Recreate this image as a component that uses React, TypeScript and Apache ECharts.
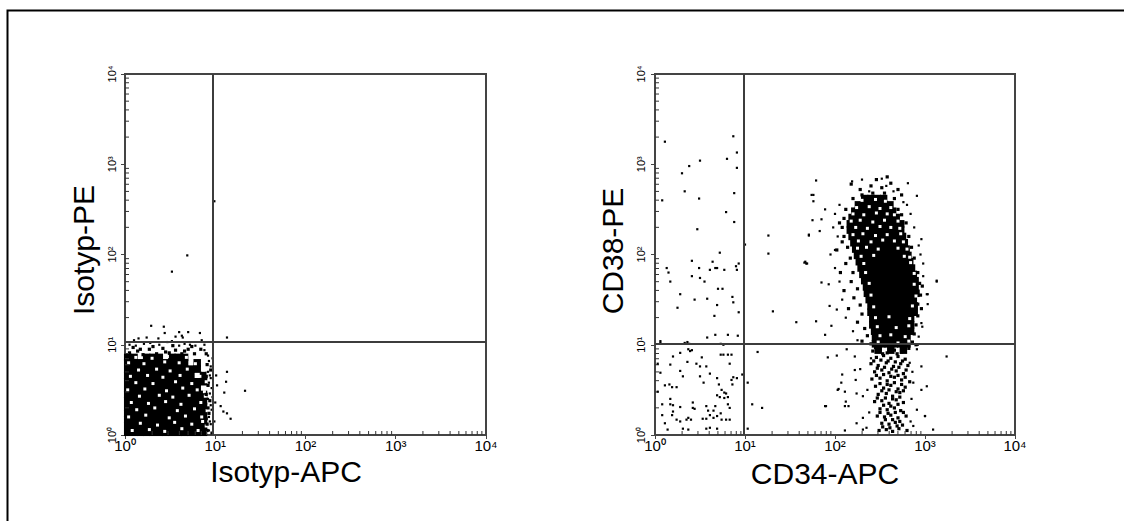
import React, { useEffect, useRef } from "react";
import * as echarts from "echarts";

// ---------- axes ----------
const tickLabels = ["10⁰", "10¹", "10²", "10³", "10⁴"];
const minorTickValues = [
  2, 3, 4, 5, 6, 7, 8, 9, 20, 30, 40, 50, 60, 70, 80, 90, 200, 300, 400, 500, 600, 700, 800, 900,
  2000, 3000, 4000, 5000, 6000, 7000, 8000, 9000,
];
const axisNames = { x1: "Isotyp-APC", y1: "Isotyp-PE", x2: "CD34-APC", y2: "CD38-PE" };

// ---------- panel 1 (Isotyp), values in decades (log10) ----------
const isoGate = { x: 9.4, y: 10.8 };
const isoCoreRows: [number, number[]][] = [
  [0.03, [0.03, 0.1, 0.17, 0.24, 0.31, 0.38, 0.45, 0.52, 0.59, 0.66, 0.73, 0.8, 0.87]],
  [0.1, [0.03, 0.1, 0.17, 0.24, 0.31, 0.38, 0.45, 0.52, 0.59, 0.66, 0.73, 0.8, 0.87]],
  [0.17, [0.03, 0.1, 0.17, 0.24, 0.31, 0.38, 0.45, 0.52, 0.59, 0.66, 0.73, 0.8, 0.87]],
  [0.24, [0.03, 0.1, 0.17, 0.24, 0.31, 0.38, 0.45, 0.52, 0.59, 0.66, 0.73, 0.8, 0.87]],
  [0.31, [0.03, 0.1, 0.17, 0.24, 0.31, 0.38, 0.45, 0.52, 0.59, 0.66, 0.73, 0.8, 0.87]],
  [0.38, [0.03, 0.1, 0.17, 0.24, 0.31, 0.38, 0.45, 0.52, 0.59, 0.66, 0.73, 0.8, 0.87]],
  [0.45, [0.03, 0.1, 0.17, 0.24, 0.31, 0.38, 0.45, 0.52, 0.59, 0.66, 0.73, 0.8, 0.87]],
  [0.52, [0.03, 0.1, 0.17, 0.24, 0.31, 0.38, 0.45, 0.52, 0.59, 0.66, 0.73, 0.8]],
  [0.59, [0.03, 0.1, 0.17, 0.24, 0.31, 0.38, 0.45, 0.52, 0.59, 0.66, 0.73, 0.8, 0.87]],
  [0.66, [0.03, 0.1, 0.17, 0.24, 0.31, 0.38, 0.45, 0.52, 0.59, 0.66, 0.73, 0.87]],
  [0.73, [0.03, 0.1, 0.17, 0.24, 0.31, 0.38, 0.45, 0.52, 0.59, 0.66, 0.73, 0.8]],
  [0.8, [0.03, 0.1, 0.17, 0.24, 0.31, 0.38, 0.45, 0.52, 0.59, 0.66, 0.8]],
  [0.86, [0.03, 0.1, 0.24, 0.31, 0.38, 0.52, 0.59, 0.66]],
];
const isoSpecks: [number, number][] = [
  [0.08, 0.05], [0.27, 0.06], [0.44, 0.04], [0.63, 0.07], [0.81, 0.05],
  [0.17, 0.13], [0.36, 0.11], [0.55, 0.14], [0.74, 0.12], [0.9, 0.1],
  [0.04, 0.2], [0.23, 0.22], [0.49, 0.19], [0.67, 0.21], [0.85, 0.2],
  [0.13, 0.28], [0.33, 0.3], [0.58, 0.27], [0.77, 0.29], [0.91, 0.27],
  [0.07, 0.36], [0.26, 0.35], [0.45, 0.37], [0.62, 0.34], [0.84, 0.36],
  [0.16, 0.43], [0.38, 0.44], [0.53, 0.42], [0.71, 0.44], [0.89, 0.43],
  [0.03, 0.5], [0.22, 0.51], [0.46, 0.49], [0.64, 0.52], [0.8, 0.5],
  [0.12, 0.58], [0.31, 0.57], [0.56, 0.59], [0.74, 0.57], [0.9, 0.59],
  [0.06, 0.65], [0.25, 0.66], [0.42, 0.64], [0.61, 0.66], [0.83, 0.65],
  [0.15, 0.72], [0.35, 0.73], [0.5, 0.71], [0.69, 0.73], [0.87, 0.72],
  [0.04, 0.8], [0.21, 0.79], [0.44, 0.81], [0.6, 0.8], [0.78, 0.79], [0.9, 0.81],
  [0.12, 0.86], [0.3, 0.85], [0.47, 0.87], [0.68, 0.86], [0.84, 0.86],
  [0.86, 0.15], [0.88, 0.48], [0.92, 0.68],
];
const isoMid: [number, number][] = [
  [0.05, 0.91], [0.14, 0.93], [0.2, 0.89], [0.27, 0.95], [0.35, 0.9], [0.42, 0.96], [0.49, 0.91],
  [0.56, 0.94], [0.63, 0.9], [0.7, 0.95], [0.77, 0.9], [0.84, 0.95], [0.9, 0.9], [0.09, 0.97],
  [0.31, 0.98], [0.53, 0.99], [0.74, 0.98], [0.17, 0.95], [0.45, 0.92], [0.66, 0.93],
  [0.91, 0.05], [0.9, 0.18], [0.92, 0.3], [0.9, 0.45], [0.92, 0.55], [0.9, 0.65], [0.91, 0.78],
  [0.94, 0.38], [0.95, 0.72], [0.93, 0.24], [0.91, 0.12],
];
const isoDots: [number, number][] = [
  [0.93, 0.05], [0.95, 0.12], [0.93, 0.2], [0.96, 0.28], [0.95, 0.33], [0.92, 0.4], [0.94, 0.46],
  [0.96, 0.52], [0.93, 0.58], [0.95, 0.63], [0.92, 0.7], [0.95, 0.76], [0.93, 0.82], [0.92, 0.88],
  [0.88, 0.94], [0.96, 0.02], [0.94, 0.15], [0.97, 0.42], [0.94, 0.66], [0.97, 0.85],
  [0.05, 1.0], [0.12, 0.99], [0.21, 1.01], [0.28, 1.02], [0.38, 1.0], [0.47, 1.03], [0.52, 1.04],
  [0.6, 0.99], [0.66, 1.01], [0.72, 1.0], [0.78, 0.99], [0.85, 1.05], [0.1, 1.05], [0.24, 1.08],
  [0.37, 1.07], [0.44, 1.13], [0.56, 1.09], [0.64, 1.08], [0.7, 1.14], [0.83, 1.13], [0.15, 1.07],
  [0.29, 1.21], [0.43, 1.2], [0.6, 1.14], [0.63, 1.1], [0.88, 1.0],
  [1.13, 1.08], [1.13, 0.7], [1.12, 0.59], [1.33, 0.49], [1.1, 0.47], [1.09, 0.26], [1.13, 0.24],
  [1.17, 0.18], [1.06, 0.32], [1.0, 0.36], [1.02, 0.55], [0.99, 0.15], [1.01, 0.66],
  [0.52, 1.81], [0.69, 1.99], [0.99, 2.59],
];

// ---------- panel 2 (CD34 / CD38), values in decades (log10) ----------
const cdGate = { x: 9.7, y: 10.3 };
const cdCoreRows: [number, number[]][] = [
  [2.62, [2.33, 2.4, 2.47, 2.54]],
  [2.55, [2.26, 2.33, 2.4, 2.47, 2.54, 2.61]],
  [2.48, [2.22, 2.29, 2.36, 2.43, 2.5, 2.57, 2.64]],
  [2.41, [2.19, 2.26, 2.33, 2.4, 2.47, 2.54, 2.61, 2.68]],
  [2.34, [2.17, 2.24, 2.31, 2.38, 2.45, 2.52, 2.59, 2.66, 2.73]],
  [2.27, [2.17, 2.24, 2.31, 2.38, 2.45, 2.52, 2.59, 2.66, 2.73]],
  [2.2, [2.19, 2.26, 2.33, 2.4, 2.47, 2.54, 2.61, 2.68, 2.75]],
  [2.13, [2.21, 2.28, 2.35, 2.42, 2.49, 2.56, 2.63, 2.7, 2.77]],
  [2.06, [2.23, 2.3, 2.37, 2.44, 2.51, 2.58, 2.65, 2.72, 2.79]],
  [1.99, [2.25, 2.32, 2.39, 2.46, 2.53, 2.6, 2.67, 2.74, 2.81]],
  [1.92, [2.27, 2.34, 2.41, 2.48, 2.55, 2.62, 2.69, 2.76, 2.83]],
  [1.85, [2.29, 2.36, 2.43, 2.5, 2.57, 2.64, 2.71, 2.78, 2.85]],
  [1.78, [2.31, 2.38, 2.45, 2.52, 2.59, 2.66, 2.73, 2.8, 2.87]],
  [1.71, [2.33, 2.4, 2.47, 2.54, 2.61, 2.68, 2.75, 2.82, 2.89]],
  [1.64, [2.35, 2.42, 2.49, 2.56, 2.63, 2.7, 2.77, 2.84, 2.89]],
  [1.57, [2.36, 2.43, 2.5, 2.57, 2.64, 2.71, 2.78, 2.85, 2.9]],
  [1.5, [2.38, 2.45, 2.52, 2.59, 2.66, 2.73, 2.8, 2.87]],
  [1.43, [2.4, 2.47, 2.54, 2.61, 2.68, 2.75, 2.82, 2.88]],
  [1.36, [2.4, 2.47, 2.54, 2.61, 2.68, 2.75, 2.82, 2.88]],
  [1.29, [2.42, 2.49, 2.56, 2.63, 2.7, 2.77, 2.84]],
  [1.22, [2.42, 2.49, 2.56, 2.63, 2.7, 2.77, 2.84]],
  [1.15, [2.44, 2.51, 2.58, 2.65, 2.72, 2.79, 2.84]],
  [1.08, [2.45, 2.52, 2.59, 2.66, 2.73, 2.8]],
  [1.01, [2.45, 2.52, 2.59, 2.66, 2.73, 2.8]],
  [0.94, [2.48, 2.62, 2.76]],
];
const cdSpecks: [number, number][] = [
  [2.3, 2.6], [2.45, 2.61], [2.56, 2.59],
  [2.24, 2.52], [2.38, 2.53], [2.5, 2.51], [2.62, 2.52],
  [2.2, 2.45], [2.32, 2.44], [2.46, 2.46], [2.58, 2.45], [2.66, 2.44],
  [2.18, 2.37], [2.28, 2.38], [2.42, 2.36], [2.55, 2.38], [2.7, 2.37],
  [2.23, 2.3], [2.36, 2.29], [2.5, 2.31], [2.62, 2.3], [2.72, 2.29],
  [2.2, 2.22], [2.31, 2.23], [2.45, 2.21], [2.58, 2.22], [2.73, 2.23],
  [2.26, 2.15], [2.4, 2.14], [2.53, 2.16], [2.66, 2.15], [2.76, 2.14],
  [2.25, 2.07], [2.35, 2.08], [2.48, 2.06], [2.7, 2.07], [2.8, 2.06],
  [2.29, 1.98], [2.43, 1.99], [2.77, 1.98], [2.83, 1.97],
  [2.32, 1.9], [2.84, 1.91], [2.34, 1.8], [2.88, 1.79], [2.38, 1.68], [2.88, 1.67],
  [2.4, 1.55], [2.9, 1.54], [2.43, 1.42], [2.86, 1.43], [2.45, 1.3], [2.6, 1.31], [2.83, 1.29],
  [2.47, 1.2], [2.68, 1.19], [2.82, 1.21], [2.5, 1.1], [2.62, 1.11], [2.78, 1.09],
  [2.48, 1.03], [2.7, 1.02], [2.82, 1.04],
];
const cdMid: [number, number][] = [
  [2.42, 0.93], [2.5, 0.95], [2.58, 0.91], [2.66, 0.94], [2.74, 0.92], [2.82, 0.96],
  [2.46, 0.86], [2.54, 0.88], [2.62, 0.85], [2.7, 0.87], [2.78, 0.84],
  [2.4, 0.79], [2.48, 0.77], [2.57, 0.8], [2.65, 0.76], [2.73, 0.79], [2.81, 0.77],
  [2.44, 0.7], [2.52, 0.72], [2.6, 0.69], [2.68, 0.71], [2.76, 0.68],
  [2.41, 0.62], [2.5, 0.63], [2.58, 0.6], [2.66, 0.64], [2.74, 0.61], [2.83, 0.59],
  [2.45, 0.54], [2.54, 0.52], [2.62, 0.55], [2.7, 0.51], [2.78, 0.53],
  [2.48, 0.45], [2.57, 0.46], [2.64, 0.43], [2.72, 0.47],
  [2.44, 0.37], [2.52, 0.38], [2.6, 0.35], [2.68, 0.39], [2.76, 0.36],
  [2.5, 0.29], [2.58, 0.28], [2.66, 0.3], [2.73, 0.27],
  [2.47, 0.21], [2.55, 0.2], [2.62, 0.22], [2.7, 0.19], [2.79, 0.21],
  [2.52, 0.13], [2.6, 0.12], [2.67, 0.14], [2.75, 0.11],
  [2.49, 0.05], [2.57, 0.06], [2.64, 0.04], [2.71, 0.07], [2.8, 0.05],
  [2.45, 0.97], [2.53, 0.9], [2.61, 0.96], [2.69, 0.9], [2.77, 0.96], [2.43, 0.82], [2.51, 0.83],
  [2.59, 0.82], [2.67, 0.81], [2.75, 0.82], [2.47, 0.74], [2.55, 0.75], [2.63, 0.73], [2.71, 0.75],
  [2.79, 0.72], [2.46, 0.66], [2.54, 0.67], [2.62, 0.65], [2.7, 0.66], [2.78, 0.64], [2.5, 0.57],
  [2.58, 0.56], [2.66, 0.58], [2.74, 0.56], [2.52, 0.49], [2.6, 0.5], [2.68, 0.48], [2.76, 0.49],
  [2.47, 0.41], [2.56, 0.41], [2.64, 0.4], [2.72, 0.42], [2.54, 0.33], [2.62, 0.32], [2.7, 0.34],
  [2.5, 0.25], [2.59, 0.24], [2.67, 0.25], [2.76, 0.25], [2.56, 0.17], [2.64, 0.17], [2.72, 0.15],
  [2.53, 0.09], [2.61, 0.08], [2.69, 0.1],
  [2.2, 2.62], [2.3, 2.66], [2.42, 2.68], [2.55, 2.68], [2.66, 2.62], [2.74, 2.66], [2.28, 2.72],
  [2.4, 2.76], [2.52, 2.74], [2.62, 2.79], [2.7, 2.72], [2.46, 2.83], [2.18, 2.78], [2.58, 2.86],
  [2.7, 2.5], [2.74, 2.44], [2.79, 2.35], [2.12, 2.5], [2.1, 2.4],
  [2.08, 2.3], [2.1, 2.2], [2.14, 2.08], [2.08, 2.14], [2.17, 1.96], [2.12, 1.9], [2.2, 1.8],
  [2.18, 1.7], [2.25, 1.62], [2.21, 1.52], [2.28, 1.44], [2.3, 1.34], [2.25, 1.25], [2.33, 1.18],
  [2.36, 1.1], [2.3, 1.04], [2.4, 1.01], [2.82, 2.2], [2.85, 2.08], [2.88, 1.96], [2.92, 1.8],
  [2.94, 1.68], [2.95, 1.55], [2.92, 1.45], [2.92, 1.32], [2.9, 1.22], [2.88, 1.12], [2.86, 1.03],
  [2.9, 1.0], [2.05, 2.35], [2.02, 2.05], [2.06, 1.8], [2.1, 1.6], [2.15, 1.4], [2.97, 1.65],
  [2.96, 1.4],
];
const cdDots: [number, number][] = [
  // left column, above gate
  [0.11, 3.25], [0.08, 2.6], [0.3, 2.9], [0.38, 2.98], [0.5, 3.04], [0.33, 2.7], [0.49, 2.62],
  [0.47, 2.28], [0.41, 1.93], [0.13, 1.85], [0.15, 1.8], [0.17, 1.7], [0.28, 1.56], [0.25, 1.41],
  [0.41, 1.76], [0.49, 1.85], [0.5, 1.74], [0.55, 1.7], [0.44, 1.5], [0.58, 1.51], [0.61, 1.83],
  [0.64, 1.92], [0.67, 1.85], [0.69, 1.85], [0.72, 2.02], [0.77, 1.83], [0.79, 2.47], [0.8, 3.06],
  [0.87, 3.31], [0.91, 3.13], [0.91, 2.96], [0.88, 2.68], [0.88, 2.36], [0.9, 1.87], [0.91, 1.83],
  [0.93, 1.9], [0.7, 1.62], [0.75, 1.62], [0.69, 1.44], [0.66, 1.32], [0.58, 1.08], [0.67, 1.11],
  [0.81, 1.11], [0.86, 1.53], [0.87, 1.47], [0.93, 1.36], [0.92, 1.1], [0.06, 1.04], [0.33, 1.02],
  [0.36, 1.03], [0.38, 1.01], [0.76, 1.0], [0.73, 1.01],
  // left column, below gate
  [0.06, 1.02], [0.03, 0.79], [0.06, 0.69], [0.17, 0.78], [0.2, 0.87], [0.28, 0.91], [0.37, 0.95],
  [0.39, 0.93], [0.41, 0.94], [0.36, 0.81], [0.46, 0.79], [0.5, 0.76], [0.52, 0.86], [0.57, 0.76],
  [0.28, 0.71], [0.31, 0.65], [0.24, 0.53], [0.19, 0.53], [0.16, 0.56], [0.5, 0.65], [0.54, 0.58],
  [0.61, 0.68], [0.69, 0.63], [0.73, 0.89], [0.76, 0.89], [0.81, 0.89], [0.85, 0.89], [0.83, 0.79],
  [0.87, 0.64], [0.85, 0.61], [0.86, 0.56], [0.91, 0.63], [0.97, 0.67], [0.71, 0.56], [0.74, 0.5],
  [0.77, 0.47], [0.79, 0.46], [0.81, 0.42], [0.77, 0.41], [0.72, 0.42], [0.69, 0.44], [0.81, 0.34],
  [0.83, 0.3], [0.67, 0.32], [0.65, 0.27], [0.57, 0.32], [0.59, 0.27], [0.61, 0.22], [0.65, 0.19],
  [0.69, 0.21], [0.73, 0.24], [0.74, 0.17], [0.79, 0.17], [0.83, 0.17], [0.57, 0.18], [0.53, 0.18],
  [0.42, 0.36], [0.42, 0.3], [0.44, 0.29], [0.37, 0.19], [0.35, 0.17], [0.4, 0.17], [0.24, 0.17],
  [0.19, 0.22], [0.2, 0.26], [0.08, 0.34], [0.17, 0.34], [0.2, 0.33], [0.08, 0.22], [0.14, 0.06],
  [0.31, 0.07], [0.37, 0.06], [0.57, 0.07], [0.61, 0.08], [0.69, 0.07], [0.28, 0.15], [0.03, 0.48],
  [0.11, 0.55], [0.17, 0.4], [0.28, 0.31], [0.11, 0.13],
  // between gates and outliers
  [1.0, 2.11], [1.26, 2.21], [1.26, 2.01], [1.31, 1.37], [1.57, 1.25], [1.66, 1.91], [1.68, 1.9],
  [1.79, 1.26], [1.71, 2.22], [1.76, 2.66], [1.75, 2.38], [1.14, 0.92], [1.03, 0.58], [1.08, 0.34],
  [1.19, 0.3], [1.03, 0.07], [1.92, 0.86], [2.02, 0.88], [2.03, 0.5], [1.9, 0.32], [2.11, 0.32],
  [2.12, 0.37], [2.08, 0.67], [2.11, 0.48], [2.11, 0.05], [2.22, 0.72], [2.23, 0.61], [2.24, 0.46],
  [2.31, 0.19], [2.31, 0.06], [3.02, 0.54], [3.0, 0.21], [3.09, 0.06], [3.24, 0.87], [3.13, 1.71],
  [3.03, 1.56], [3.03, 1.45],
  // cluster fringe
  [1.76, 2.59], [1.79, 2.82], [1.74, 2.66], [1.85, 2.39], [1.89, 2.5], [1.83, 2.26], [1.71, 2.21],
  [1.67, 1.92], [1.69, 1.9], [1.85, 1.69], [1.93, 1.67], [1.94, 1.43], [1.96, 1.21], [1.89, 1.11],
  [2.02, 1.39], [2.0, 2.05], [2.19, 2.81], [2.3, 2.83], [2.52, 2.84], [2.57, 2.76], [2.81, 2.79],
  [2.91, 2.65], [2.96, 2.17], [2.98, 1.76], [3.02, 1.56], [3.13, 1.7], [2.96, 1.24], [2.93, 1.09],
  [2.91, 0.95], [2.96, 0.76], [2.96, 0.5], [3.0, 0.21], [2.13, 0.95], [2.22, 0.87], [2.07, 0.58],
  [2.15, 0.32], [2.24, 0.13], [2.35, 0.08], [2.28, 0.73], [2.31, 0.43], [1.89, 0.32], [2.04, 0.51],
  [2.91, 0.28], [2.87, 0.1], [2.87, 0.58], [2.83, 0.8], [2.36, 0.5], [2.85, 0.4], [2.38, 0.25],
  [2.84, 0.15], [2.4, 0.85], [2.86, 0.7], [2.25, 2.55], [2.38, 2.7], [2.5, 2.6], [2.65, 2.7],
  [2.76, 2.58], [2.05, 2.55], [2.0, 2.45], [1.98, 2.3], [2.03, 2.2], [1.95, 2.0], [2.0, 1.85],
  [2.05, 1.7], [2.08, 1.5], [2.12, 1.3], [2.2, 1.15], [2.25, 1.05], [2.95, 2.0], [2.98, 1.9],
  [2.93, 2.1], [2.88, 2.3], [2.84, 2.45], [2.8, 2.55], [2.97, 1.2], [2.92, 1.0],
];

const FONT = "Liberation Sans, Arial, sans-serif";
const toVal = (p: [number, number]) => [Math.pow(10, p[0]), Math.pow(10, p[1])];
const rowsToVals = (rows: [number, number[]][]) =>
  rows.flatMap(([y, xs]) => xs.map((x) => toVal([x, y])));
const labelFor = (v: number) => tickLabels[Math.round(Math.log10(v))] ?? "";

function panelAxes(idx: number, yMargin: number) {
  const common = {
    type: "log" as const,
    logBase: 10,
    min: 1,
    max: 10000,
    gridIndex: idx,
    axisLine: { show: false },
    axisTick: { show: true, inside: false, length: 4, lineStyle: { color: "#444", width: 1 } },
    splitLine: { show: false },
    minorTick: { show: false },
  };
  return {
    x: {
      ...common,
      axisLabel: { formatter: labelFor, fontSize: 15, fontFamily: FONT, color: "#000", margin: 3 },
    },
    y: {
      ...common,
      axisLabel: {
        formatter: labelFor,
        fontSize: 11,
        fontFamily: FONT,
        color: "#000",
        rotate: 90,
        margin: yMargin,
      },
    },
  };
}

function panelSeries(
  idx: number,
  core: number[][],
  specks: number[][],
  mid: number[][],
  dots: number[][],
  gate: { x: number; y: number }
) {
  const base = { type: "scatter" as const, xAxisIndex: idx, yAxisIndex: idx, silent: true };
  const black = { color: "#000", opacity: 1 };
  return [
    { ...base, name: `core${idx}`, data: core, symbol: "rect", symbolSize: 7.5, itemStyle: black },
    { ...base, name: `specks${idx}`, data: specks, symbol: "rect", symbolSize: 3, itemStyle: { color: "#fff", opacity: 1 } },
    { ...base, name: `mid${idx}`, data: mid, symbol: "rect", symbolSize: 3.2, itemStyle: black },
    {
      ...base,
      name: `dots${idx}`,
      data: dots,
      symbol: "rect",
      symbolSize: 2.2,
      itemStyle: black,
      z: 3,
      markLine: {
        silent: true,
        symbol: "none",
        label: { show: false },
        lineStyle: { color: "#3c3c3c", width: 2, type: "solid", opacity: 1 },
        data: [{ xAxis: gate.x }, { yAxis: gate.y }],
      },
    },
    {
      ...base,
      name: `xminor${idx}`,
      data: minorTickValues.map((v) => [v, 1]),
      symbol: "rect",
      symbolSize: [1, 4],
      symbolOffset: [0, -2],
      clip: false,
      itemStyle: { color: "#333", opacity: 1 },
    },
    {
      ...base,
      name: `yminor${idx}`,
      data: minorTickValues.map((v) => [1, v]),
      symbol: "rect",
      symbolSize: [4, 1],
      symbolOffset: [2, 0],
      clip: false,
      itemStyle: { color: "#333", opacity: 1 },
    },
  ];
}

export default function App() {
  const ref = useRef<HTMLDivElement>(null);
  useEffect(() => {
    if (!ref.current) return;
    const chart = echarts.init(ref.current, undefined, { renderer: "svg" });
    const a1 = panelAxes(0, 8);
    const a2 = panelAxes(1, 9);
    const option = {
      animation: false,
      backgroundColor: "#fff",
      grid: [
        { left: 125, top: 74, width: 361, height: 361, show: true, borderColor: "#444", borderWidth: 2, backgroundColor: "transparent" },
        { left: 655, top: 74, width: 360, height: 361, show: true, borderColor: "#444", borderWidth: 2, backgroundColor: "transparent" },
      ],
      xAxis: [a1.x, a2.x],
      yAxis: [a1.y, a2.y],
      series: [
        ...panelSeries(0, rowsToVals(isoCoreRows), isoSpecks.map(toVal), isoMid.map(toVal), isoDots.map(toVal), isoGate),
        ...panelSeries(1, rowsToVals(cdCoreRows), cdSpecks.map(toVal), cdMid.map(toVal), cdDots.map(toVal), cdGate),
      ],
      graphic: [
        {
          type: "rect",
          shape: { x: 7.5, y: 10.5, width: 1200, height: 600 },
          style: { fill: "none", stroke: "#000", lineWidth: 2 },
          silent: true,
        },
        {
          type: "text",
          x: 286,
          y: 471,
          style: { text: axisNames.x1, font: `30px ${FONT}`, fill: "#000", textAlign: "center", textVerticalAlign: "middle" },
        },
        {
          type: "text",
          x: 825,
          y: 473,
          style: { text: axisNames.x2, font: `30px ${FONT}`, fill: "#000", textAlign: "center", textVerticalAlign: "middle" },
        },
        {
          type: "text",
          x: 83,
          y: 250,
          rotation: Math.PI / 2,
          style: { text: axisNames.y1, font: `30px ${FONT}`, fill: "#000", textAlign: "center", textVerticalAlign: "middle" },
        },
        {
          type: "text",
          x: 612,
          y: 251,
          rotation: Math.PI / 2,
          style: { text: axisNames.y2, font: `30px ${FONT}`, fill: "#000", textAlign: "center", textVerticalAlign: "middle" },
        },
      ],
    };
    chart.setOption(option as any);
    return () => chart.dispose();
  }, []);
  return (
    <div
      ref={ref}
      style={{ position: "absolute", left: 0, top: 0, width: 1124, height: 521, background: "#fff" }}
    />
  );
}
